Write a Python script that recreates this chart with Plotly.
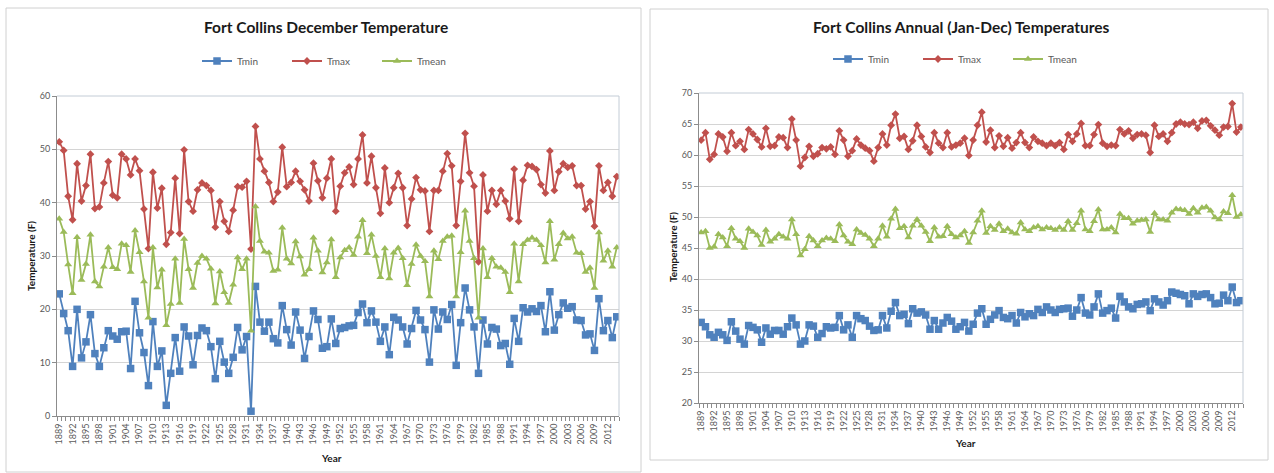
import plotly.graph_objects as go

years = list(range(1889, 2015))

dec_tmax = [51.4, 49.8, 41.2, 36.8, 47.3, 40.3, 43.2, 49.1, 38.9, 39.2,
            43.7, 47.7, 41.4, 40.9, 49.1, 48.2, 45.2, 48.2, 46.0, 38.8,
            31.4, 45.7, 39.0, 42.7, 32.2, 34.4, 44.6, 34.2, 49.9, 40.2,
            38.4, 42.4, 43.7, 43.2, 42.3, 35.4, 40.2, 36.5, 34.6, 38.6,
            43.0, 42.9, 44.0, 31.3, 54.3, 48.2, 45.9, 43.8, 40.2, 42.0,
            50.4, 43.0, 43.8, 45.9, 44.0, 42.4, 40.3, 47.4, 44.1, 40.9,
            44.6, 48.2, 38.4, 43.1, 45.6, 46.7, 43.4, 48.2, 52.7, 43.7,
            48.7, 42.8, 38.0, 46.5, 40.0, 42.8, 45.5, 42.8, 35.7, 40.7,
            44.7, 42.4, 42.2, 34.6, 42.3, 42.3, 45.9, 49.2, 46.9, 35.7,
            44.0, 53.0, 45.6, 43.1, 28.9, 45.2, 38.4, 42.3, 39.7, 42.3,
            40.3, 37.0, 46.3, 36.5, 44.2, 47.0, 46.8, 46.2, 43.4, 41.8,
            49.7, 42.3, 45.8, 47.3, 46.6, 46.9, 43.2, 43.2, 38.8, 40.2,
            35.6, 46.9, 42.3, 43.8, 41.2, 44.9]

dec_tmean = [37.0, 34.5, 28.4, 23.0, 33.5, 25.5, 28.5, 34.0, 25.2, 24.3,
             28.0, 31.6, 27.9, 27.5, 32.3, 32.0, 27.0, 34.8, 30.7, 25.2,
             18.4, 31.6, 24.1, 27.4, 17.0, 21.0, 29.5, 21.2, 33.2, 27.5,
             24.0, 28.7, 30.0, 29.5, 27.6, 21.1, 27.1, 23.2, 21.2, 24.6,
             29.7, 27.5, 29.5, 16.0, 39.3, 32.8, 30.8, 30.6, 27.2, 27.4,
             35.3, 29.5, 28.6, 32.7, 29.9, 26.5, 27.5, 33.4, 31.0, 26.9,
             28.8, 33.1, 26.0, 29.7, 31.1, 31.6, 30.2, 33.6, 36.7, 30.5,
             34.0, 30.0, 26.0, 31.4, 25.8, 30.6, 31.5, 29.6, 24.5, 28.5,
             32.1, 30.0, 29.0, 22.4, 31.0, 29.4, 32.8, 33.6, 33.8, 22.4,
             30.7, 38.5, 32.8, 29.6, 18.4, 31.4, 26.0, 29.6, 28.0, 27.8,
             27.0, 23.2, 32.3, 25.2, 32.2, 33.0, 33.4, 33.0, 32.0, 28.8,
             36.5, 29.3, 32.2, 34.3, 33.3, 33.6, 30.6, 30.5, 27.0, 27.8,
             24.0, 34.4, 29.1, 31.0, 28.0, 31.6]

dec_tmin = [22.9, 19.2, 16.0, 9.3, 20.0, 10.9, 13.9, 19.0, 11.7, 9.3,
            12.8, 16.0, 15.0, 14.4, 15.8, 15.9, 8.9, 21.5, 15.6, 11.9,
            5.7, 17.7, 9.3, 12.2, 2.0, 8.0, 14.7, 8.4, 16.7, 15.0,
            9.6, 15.1, 16.5, 16.0, 13.0, 7.0, 14.0, 10.1, 8.0, 11.0,
            16.6, 12.4, 14.9, 0.9, 24.3, 17.6, 15.9, 17.6, 14.5, 13.7,
            20.7, 16.2, 13.3, 19.5, 16.1, 10.8, 14.9, 19.7, 18.1, 12.7,
            13.0, 18.2, 13.6, 16.4, 16.6, 16.9, 17.0, 19.4, 21.0, 17.5,
            19.7, 17.6, 14.0, 16.7, 11.5, 18.5, 18.0, 16.7, 13.5, 16.4,
            19.8, 18.0, 16.2, 10.1, 19.9, 16.3, 19.5, 18.1, 20.9, 9.5,
            17.5, 24.0, 19.9, 16.7, 8.0, 18.0, 13.5, 16.6, 16.3, 13.2,
            13.6, 9.7, 18.3, 14.0, 20.3, 19.5, 20.1, 19.6, 20.7, 15.8,
            23.3, 16.1, 19.0, 21.2, 20.2, 20.5, 18.0, 17.9, 15.2, 15.4,
            12.3, 22.0, 16.0, 17.9, 14.7, 18.6]

ann_tmax = [62.4, 63.6, 59.3, 60.1, 63.4, 62.9, 60.6, 63.6, 61.5, 62.2,
            60.9, 64.1, 63.4, 62.5, 61.3, 64.3, 61.4, 61.5, 62.9, 62.8,
            61.2, 65.8, 62.4, 58.2, 59.6, 61.4, 59.8, 60.2, 61.2, 61.0,
            61.3, 60.1, 63.9, 62.4, 59.8, 60.7, 62.6, 61.6, 61.1, 60.7,
            59.0, 61.2, 63.4, 61.6, 64.8, 66.6, 62.7, 63.0, 60.9, 62.3,
            64.8, 63.0, 61.3, 60.4, 63.6, 61.9, 61.2, 63.6, 61.3, 61.6,
            61.9, 62.7, 59.9, 62.4, 64.8, 66.9, 62.1, 64.0, 61.2, 63.1,
            61.4, 62.8, 61.1, 62.0, 63.6, 62.0, 61.2, 62.9, 62.2, 61.9,
            61.5, 61.9, 61.5, 62.0, 60.9, 63.3, 62.2, 63.4, 65.1, 61.5,
            61.5, 63.3, 64.9, 61.9, 61.4, 61.6, 61.5, 64.1, 63.4, 63.9,
            62.7, 63.3, 63.4, 63.2, 60.4, 64.8, 63.0, 63.4, 62.2, 63.6,
            65.0, 65.3, 65.0, 64.9, 65.3, 64.3, 65.5, 65.6, 64.7, 64.0,
            63.2, 64.5, 64.6, 68.3, 63.7, 64.5]

ann_tmean = [47.5, 47.7, 45.0, 45.2, 47.2, 46.7, 45.3, 48.2, 46.5, 46.1,
             45.0, 48.1, 47.6, 47.0, 45.5, 47.9, 46.0, 46.5, 47.2, 46.8,
             46.5, 49.6, 47.2, 43.8, 44.8, 46.9, 46.2, 45.3, 46.2, 46.6,
             46.5, 46.1, 48.8, 47.0, 46.0, 45.6, 48.0, 47.4, 47.1, 46.5,
             45.3, 46.5, 48.6, 46.8, 49.7, 51.3, 48.2, 48.5, 46.7, 48.6,
             49.6, 48.6, 47.6, 46.1, 48.3, 46.8, 46.9, 48.5, 47.2, 46.7,
             47.0, 47.7, 45.8, 47.5, 49.4, 51.0, 47.4, 48.5, 47.9, 48.9,
             47.7, 48.1, 47.5, 47.3, 49.1, 48.0, 47.7, 48.3, 48.5, 48.0,
             48.3, 48.2, 47.9, 48.3, 47.9, 49.3, 47.9, 49.0, 51.0, 48.0,
             47.7, 49.3, 51.2, 48.0, 48.0, 48.3, 47.5, 50.5, 49.8, 49.8,
             48.9, 49.4, 49.5, 49.6, 47.6, 50.6, 49.6, 49.6, 49.4, 50.7,
             51.3, 51.2, 51.1, 50.5, 51.4, 50.7, 51.5, 51.6, 51.0, 49.9,
             49.6, 50.9, 50.6, 53.5, 50.0, 50.4]

ann_tmin = [33.0, 32.3, 31.0, 30.6, 31.4, 31.0, 30.1, 33.1, 31.6, 30.3,
            29.5, 32.5, 32.2, 31.8, 29.8, 32.1, 31.1, 31.7, 31.7, 31.1,
            32.3, 33.7, 32.6, 29.5, 30.0, 32.6, 32.4, 30.6, 31.2, 32.3,
            32.1, 32.2, 34.1, 31.8, 32.6, 30.6, 34.1, 33.6, 33.3, 32.4,
            31.7, 31.8, 34.1, 32.1, 34.8, 36.2, 34.1, 34.3, 32.8, 35.2,
            34.5, 34.7, 34.2, 31.9, 33.3, 31.9, 32.9, 33.8, 33.2, 31.9,
            32.3, 33.0, 31.6, 32.7, 34.5, 35.2, 32.7, 33.5, 34.2, 34.9,
            33.8, 33.6, 34.1, 32.9, 34.6, 33.9, 34.4, 34.1, 35.1, 34.6,
            35.5, 35.0, 34.6, 35.1, 35.2, 35.3, 34.0, 35.0, 37.0, 34.5,
            34.2, 35.5, 37.6, 34.5, 34.9, 35.3, 33.7, 37.2, 36.3, 35.5,
            35.2, 35.9, 36.0, 36.3, 34.9, 36.8, 36.3, 35.8, 36.5, 37.9,
            37.7, 37.5, 37.3, 36.0, 37.6, 37.2, 37.5, 37.6, 37.0, 36.0,
            36.1, 37.4, 36.5, 38.7, 36.2, 36.5]

tick_years = list(range(1889, 2013, 3))
tick_text = [str(y) for y in tick_years]

W, H = 1274, 473
FONT = "Lato, 'Open Sans', sans-serif"
BLUE, RED, GREEN = "#4F81BD", "#C0504D", "#9BBB59"
GRID = "#d4d4d4"
AXIS = "#8c8c8c"
TICKFONT = dict(family=FONT, size=9, color="#595959")


def px(x):
    return x / W


def py(y):
    return 1 - y / H


fig = go.Figure()

series = [
    ("Tmin", BLUE, "square", 7.5),
    ("Tmax", RED, "diamond", 6),
    ("Tmean", GREEN, "triangle-up", 7),
]

left_data = {"Tmin": dec_tmin, "Tmax": dec_tmax, "Tmean": dec_tmean}
right_data = {"Tmin": ann_tmin, "Tmax": ann_tmax, "Tmean": ann_tmean}

for name, color, sym, size in series:
    fig.add_trace(go.Scatter(
        x=years, y=left_data[name], name=name, mode="lines+markers",
        line=dict(color=color, width=1.8),
        marker=dict(symbol=sym, size=size, color=color),
        xaxis="x", yaxis="y", legend="legend",
    ))
for name, color, sym, size in series:
    fig.add_trace(go.Scatter(
        x=years, y=right_data[name], name=name, mode="lines+markers",
        line=dict(color=color, width=1.8),
        marker=dict(symbol=sym, size=size, color=color),
        xaxis="x2", yaxis="y2", legend="legend2",
    ))

# plot area geometry (pixels)
L1 = (57, 619, 96, 416)   # left, right, top, bottom
L2 = (699, 1243, 93, 403)


def xaxis_cfg(box, anchor):
    return dict(
        domain=[px(box[0]), px(box[1])], anchor=anchor, automargin=False,
        range=[1888.5, 2014.5], tickmode="array", tickvals=tick_years,
        ticktext=tick_text, tickangle=-90, ticks="", showgrid=False,
        showline=True, linecolor=AXIS, linewidth=1, zeroline=False,
        tickfont=TICKFONT, ticklabelstandoff=3,
        minor=dict(ticks="outside", tickmode="linear", tick0=1888.5, dtick=1,
                   ticklen=4, tickcolor=AXIS, showgrid=False),
        fixedrange=True,
    )


def yaxis_cfg(box, anchor, rng, dt):
    return dict(
        domain=[py(box[3]), py(box[2])], anchor=anchor, automargin=False,
        range=rng, dtick=dt, tick0=rng[0], showgrid=True, gridcolor=GRID,
        gridwidth=1, showline=True, linecolor=AXIS, linewidth=1,
        ticks="outside", ticklen=4, tickcolor=AXIS, zeroline=False,
        tickfont=TICKFONT, fixedrange=True,
    )


shapes = []
# panel borders
shapes.append(dict(type="rect", xref="paper", yref="paper",
                   x0=px(6), x1=px(641), y0=py(472), y1=py(8),
                   line=dict(color="#d0d0d0", width=1)))
shapes.append(dict(type="rect", xref="paper", yref="paper",
                   x0=px(650), x1=px(1268), y0=py(460), y1=py(9),
                   line=dict(color="#d0d0d0", width=1)))
# plot area borders (top / right)
for b in (L1, L2):
    shapes.append(dict(type="line", xref="paper", yref="paper",
                       x0=px(b[0]), x1=px(b[1]), y0=py(b[2]), y1=py(b[2]),
                       line=dict(color="#c3ccd6", width=1)))
    shapes.append(dict(type="line", xref="paper", yref="paper",
                       x0=px(b[1]), x1=px(b[1]), y0=py(b[3]), y1=py(b[2]),
                       line=dict(color="#c3ccd6", width=1)))

TITLEFONT = dict(family=FONT, size=15.5, color="#1a1a1a")
AXTITLEFONT = dict(family=FONT, size=10, color="#1a1a1a")

annotations = [
    dict(text="<b>Fort Collins December Temperature</b>", x=px(326), y=py(27),
         xref="paper", yref="paper", showarrow=False, font=TITLEFONT,
         xanchor="center", yanchor="middle"),
    dict(text="<b>Fort Collins Annual (Jan-Dec) Temperatures</b>", x=px(961), y=py(27),
         xref="paper", yref="paper", showarrow=False, font=TITLEFONT,
         xanchor="center", yanchor="middle"),
    dict(text="<b>Year</b>", x=px(331), y=py(458), xref="paper", yref="paper",
         showarrow=False, font=AXTITLEFONT, xanchor="center", yanchor="middle"),
    dict(text="<b>Year</b>", x=px(965), y=py(443), xref="paper", yref="paper",
         showarrow=False, font=AXTITLEFONT, xanchor="center", yanchor="middle"),
    dict(text="<b>Temperature (F)</b>", x=px(31), y=py(256), xref="paper", yref="paper",
         showarrow=False, font=AXTITLEFONT, textangle=-90,
         xanchor="center", yanchor="middle"),
    dict(text="<b>Temperature (F)</b>", x=px(673), y=py(247), xref="paper", yref="paper",
         showarrow=False, font=AXTITLEFONT, textangle=-90,
         xanchor="center", yanchor="middle"),
]

legend_common = dict(
    orientation="h", xanchor="left", yanchor="middle",
    font=dict(family=FONT, size=10, color="#595959"),
    bgcolor="rgba(0,0,0,0)", itemwidth=30, entrywidth=45,
    entrywidthmode="pixels", itemclick=False, itemdoubleclick=False,
    tracegroupgap=0,
)

fig.update_layout(
    width=W, height=H, autosize=False,
    margin=dict(l=0, r=0, t=0, b=0),
    paper_bgcolor="white", plot_bgcolor="white",
    xaxis=xaxis_cfg(L1, "y"),
    yaxis=yaxis_cfg(L1, "x", [0, 60], 10),
    xaxis2=xaxis_cfg(L2, "y2"),
    yaxis2=yaxis_cfg(L2, "x2", [20, 70], 5),
    legend=dict(x=px(197), y=py(61), **legend_common),
    legend2=dict(x=px(828), y=py(59), **legend_common),
    shapes=shapes, annotations=annotations,
    showlegend=True,
)

fig.write_html("out.html", config={"displayModeBar": False})

# remove the default page margin so the figure sits at the window origin
with open("out.html", "r", encoding="utf-8") as f:
    html = f.read()
html = html.replace("<head>", "<head><style>html,body{margin:0;padding:0;overflow:hidden;}</style>", 1)
with open("out.html", "w", encoding="utf-8") as f:
    f.write(html)
